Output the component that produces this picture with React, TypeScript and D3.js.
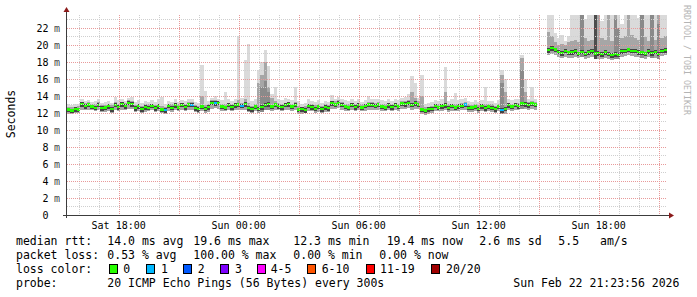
import React from "react";
import * as d3 from "d3";

// ---- time frame (10 minute steps) ----
const START = new Date(2026, 1, 21, 15, 25);
const END = new Date(2026, 1, 22, 21, 25);
const STEP_MIN = 10;
const Y_MAX = 23.52;

// ---- series (milliseconds) ----
const medianRtt: (number | null)[] = [
  12.4, 12.3, 12.45, 12.4, 13.05, 12.8, 13.0, 12.75, 12.6, 12.95,
  12.55, 12.65, 12.8, 12.45, 12.95, 12.7, 13.05, 12.8, 13.2, 13.05,
  12.55, 12.8, 12.45, 12.7, 12.6, 12.85, 12.55, 12.8, 12.4, 12.35,
  12.85, 12.6, 12.9, 12.65, 12.95, 12.7, 13.0, 12.95, 12.55, 12.45,
  12.75, 12.5, 12.7, 13.2, 13.15, 13.2, 12.75, 12.65, 12.95, 12.7,
  12.9, 13.0, 12.85, 13.05, 12.55, 12.45, 12.75, 12.5, 12.7, 12.95,
  13.05, 12.75, 13.0, 12.8, 12.7, 12.95, 13.05, 12.75, 12.95, 12.4,
  12.45, 12.35, 12.85, 12.7, 12.5, 12.75, 12.45, 12.7, 12.55, 13.15,
  13.0, 13.2, 12.95, 12.75, 12.65, 12.95, 12.7, 12.9, 12.65, 12.85,
  13.0, 12.95, 12.85, 13.0, 12.75, 12.65, 12.9, 12.7, 12.95, 12.75,
  13.1, 13.05, 13.2, 12.95, 13.15, 13.0, 12.4, 12.3, 12.45, 12.5,
  12.85, 12.65, 12.8, 12.9, 12.6, 12.85, 12.65, 12.8, 12.85, 13.0,
  12.6, 12.65, 12.75, 12.5, 12.8, 12.55, 12.75, 12.6, 12.45, 12.75,
  12.35, 12.5, 12.9, 12.75, 12.95, 12.8, 13.1, 13.05, 12.9, 13.1,
  13.0, null, null, null, 19.4, 19.6, 19.45, 19.2, 19.05, 19.3,
  19.1, 19.15, 19.25, 19.0, 19.2, 18.95, 19.15, 19.25, 19.0, 19.05,
  18.9, 19.15, 18.95, 18.8, 18.9, 18.85, 19.25, 19.3, 19.45, 19.3,
  19.3, 19.15, 19.1, 19.0, 19.25, 19.05, 19.2, 18.95, 19.3, 19.4,
];

const minPing: (number | null)[] = [
  11.9, 11.9, 11.95, 12.0, 12.3, 12.3, 12.4, 12.3, 12.2, 12.3,
  12.1, 12.1, 12.2, 12.0, 12.3, 12.2, 12.4, 12.3, 12.5, 12.5,
  12.1, 12.2, 12.0, 12.1, 12.2, 12.3, 12.1, 12.2, 11.95, 11.9,
  12.2, 12.1, 12.3, 12.2, 12.3, 12.2, 12.4, 12.4, 12.1, 12.0,
  12.2, 12.0, 12.1, 12.5, 12.6, 12.5, 12.2, 12.2, 12.3, 12.2,
  12.3, 12.4, 12.3, 12.4, 12.1, 12.0, 12.2, 12.0, 12.1, 12.3,
  12.4, 12.2, 12.4, 12.3, 12.2, 12.3, 12.4, 12.2, 12.3, 11.9,
  11.9, 12.0, 12.2, 12.2, 12.0, 12.1, 12.0, 12.1, 12.1, 12.5,
  12.5, 12.6, 12.4, 12.2, 12.2, 12.3, 12.2, 12.3, 12.2, 12.2,
  12.4, 12.4, 12.3, 12.4, 12.2, 12.2, 12.3, 12.2, 12.3, 12.2,
  12.5, 12.5, 12.6, 12.4, 12.5, 12.5, 11.9, 11.8, 11.9, 12.0,
  12.2, 12.2, 12.2, 12.3, 12.1, 12.2, 12.2, 12.2, 12.3, 12.4,
  12.1, 12.1, 12.2, 12.0, 12.2, 12.1, 12.2, 12.1, 12.0, 12.2,
  11.9, 11.9, 12.3, 12.2, 12.3, 12.3, 12.5, 12.5, 12.4, 12.5,
  12.4, null, null, null, 18.8, 18.9, 18.8, 18.6, 18.5, 18.6,
  18.5, 18.5, 18.6, 18.5, 18.6, 18.4, 18.5, 18.6, 18.4, 18.4,
  18.3, 18.5, 18.4, 18.2, 18.3, 18.3, 18.6, 18.7, 18.8, 18.7,
  18.6, 18.6, 18.5, 18.4, 18.6, 18.5, 18.5, 18.4, 18.7, 18.8,
];

const corePing: (number | null)[] = [
  12.7, 12.7, 12.75, 12.8, 13.3, 13.2, 13.3, 13.1, 13.0, 13.3,
  12.9, 12.9, 13.0, 12.9, 13.3, 13.1, 13.3, 13.2, 13.5, 13.4,
  12.9, 13.1, 12.8, 13.0, 13.0, 13.1, 12.9, 13.1, 12.8, 12.7,
  13.1, 13.0, 13.2, 13.0, 13.2, 13.1, 13.3, 13.3, 12.9, 12.8,
  14.0, 12.9, 13.0, 13.5, 13.5, 13.4, 13.1, 13.0, 13.2, 13.1,
  13.2, 13.5, 13.2, 13.6, 13.2, 12.8, 13.0, 15.5, 16.5, 18.0,
  15.0, 13.8, 13.4, 13.2, 13.1, 13.2, 13.3, 13.1, 13.3, 12.8,
  12.7, 12.8, 13.1, 13.1, 12.9, 13.0, 12.8, 13.0, 12.9, 13.4,
  13.4, 13.5, 13.3, 13.1, 13.0, 13.2, 13.1, 13.2, 13.0, 13.1,
  13.3, 13.3, 13.2, 13.3, 13.1, 13.0, 13.2, 13.1, 13.2, 13.1,
  13.4, 13.4, 13.5, 14.5, 13.8, 13.4, 14.0, 12.7, 12.7, 12.8,
  13.1, 13.0, 13.1, 14.5, 13.0, 13.1, 13.0, 13.1, 13.2, 13.3,
  13.0, 12.9, 13.0, 12.9, 13.1, 13.0, 13.0, 13.0, 12.8, 13.0,
  16.5, 14.5, 13.2, 13.1, 13.2, 13.2, 18.5, 14.5, 13.3, 13.4,
  13.3, null, null, null, 21.5, 21.0, 20.4, 20.0, 20.1, 20.0,
  20.3, 20.5, 20.6, 20.4, 24, 20.8, 20.5, 20.6, 24, 24,
  20.8, 20.6, 24, 20.5, 24, 20.3, 20.8, 21.0, 24, 21.2,
  20.8, 20.6, 24, 20.9, 20.5, 24, 20.6, 24, 20.8, 21.0,
];

const maxPing: (number | null)[] = [
  13.0, 12.9, 13.0, 13.1, 13.6, 13.4, 13.5, 13.3, 13.4, 13.6,
  13.2, 13.3, 13.4, 13.2, 13.9, 13.5, 13.6, 13.4, 13.8, 13.9,
  13.3, 13.5, 13.2, 13.4, 13.3, 13.5, 13.3, 13.6, 13.9, 13.1,
  13.4, 13.3, 13.6, 13.3, 13.5, 13.4, 13.6, 13.7, 13.3, 13.2,
  17.6, 14.6, 13.4, 13.8, 14.0, 13.7, 13.5, 14.5, 13.6, 13.4,
  13.6, 21.0, 13.8, 18.2, 20.1, 13.4, 13.6, 17.0, 18.0, 19.4,
  17.5, 14.2, 15.1, 13.6, 13.5, 13.8, 13.7, 13.5, 15.1, 13.4,
  13.1, 13.2, 13.6, 13.4, 13.3, 13.5, 13.2, 13.4, 13.3, 14.1,
  13.7, 13.9, 13.6, 13.5, 13.4, 13.6, 13.4, 13.6, 13.3, 13.5,
  14.0, 13.7, 13.6, 13.7, 13.5, 13.4, 13.6, 13.4, 13.7, 13.5,
  13.8, 13.9, 14.2, 16.3, 15.5, 13.8, 16.5, 13.1, 13.2, 13.3,
  13.5, 13.4, 13.6, 17.4, 13.4, 13.6, 14.3, 13.5, 13.7, 13.8,
  13.4, 13.3, 13.5, 13.3, 13.5, 15.1, 13.4, 13.4, 13.2, 13.5,
  17.0, 16.0, 13.6, 13.5, 13.7, 13.6, 18.8, 16.0, 13.7, 15.1,
  13.6, null, null, null, 24, 24, 21.4, 20.8, 21.2, 20.5,
  21.0, 24, 24, 24, 24, 23.0, 24, 24, 24, 24,
  22.8, 24, 24, 24, 24, 24, 22.5, 24, 24, 24,
  24, 23.2, 24, 24, 24, 24, 24, 24, 24, 24,
];

// [step index, lost pings]
const lossEvents: [number, number][] = [[29, 1], [37, 1], [44, 1], [52, 1], [119, 1], [130, 1]];
// denser smoke columns [step index, top value]
const darkSmoke: [number, number][] = [
  [58, 15.1], [59, 15.8], [60, 14.5], [130, 15.5], [136, 17.0],
  [154, 24], [164, 23], [165, 22], [172, 24], [175, 23.5], [177, 22.5],
];
const blackSmoke: [number, number][] = [[158, 24]];

const yTickValues = [0, 2, 4, 6, 8, 10, 12, 14, 16, 18, 20, 22];

const lossLabels = ["0", "1", "2", "3", "4-5", "6-10", "11-19", "20/20"];
const lossMax = [0, 1, 2, 3, 5, 10, 19, 20];
const lossColors = ["#26ff00", "#00b8ff", "#0059ff", "#7e00ff", "#ff00ff", "#ff5500", "#ff0000", "#a00000"];

const rttStats = ["14.0 ms avg", "19.6 ms max", "12.3 ms min", "19.4 ms now", "2.6 ms sd", "5.5", "am/s"];
const lossStats = ["0.53 % avg", "100.00 % max", "0.00 % min", "0.00 % now"];
const probeText = "20 ICMP Echo Pings (56 Bytes) every 300s";
const stampText = "Sun Feb 22 21:23:56 2026";

// layout
const rttX = [107.3, 193.3, 293.3, 386.7, 479.3, 558.3, 600];
const lossX = [107.3, 193.3, 293.3, 379.3];
const boxX = [108.7, 145.7, 182.7, 220, 257.3, 307, 365.7, 430.7];
const boxLabelX = [123.3, 161, 197.7, 235, 270.7, 321.7, 380, 446];

const MONO = "'DejaVu Sans Mono', monospace";

export default function App() {
  const L = 67, R = 667, T = 15, B = 215;
  const x = d3.scaleTime().domain([START, END]).range([L, R]);
  const y = d3.scaleLinear().domain([0, Y_MAX]).range([B, T]);
  const tAt = (i: number) => d3.timeMinute.offset(START, i * STEP_MIN);
  const n = medianRtt.length;
  const lossMap = new Map(lossEvents);
  const bucketOf = (lost: number) => lossMax.findIndex((m) => lost <= m);

  const area = d3
    .area<any>()
    .defined((d) => d !== null)
    .x((d) => x(d.t))
    .y0((d) => y(d.a))
    .y1((d) => y(d.b));

  const band = (lo: (i: number) => number | null, hi: (i: number) => number | null) => {
    const pts: any[] = [];
    for (let i = 0; i < n; i++) {
      const a = lo(i);
      const b = hi(i);
      if (a == null || b == null) {
        pts.push(null);
        continue;
      }
      pts.push({ t: tAt(i), a, b }, { t: tAt(i + 1), a, b });
    }
    return area(pts) || "";
  };

  const med = (i: number) => medianRtt[i] as number | null;
  const lightPath = band((i) => minPing[i], (i) => maxPing[i]);
  const midPath = band((i) => minPing[i], (i) => corePing[i]);
  const darkPath = band(
    (i) => (med(i) == null ? null : (med(i) as number) - 0.3),
    (i) => (med(i) == null ? null : (med(i) as number) + 0.22)
  );
  const medianPaths = lossColors.map((c, k) =>
    band(
      (i) => (med(i) == null || bucketOf(lossMap.get(i) || 0) !== k ? null : (med(i) as number) - 0.13),
      (i) => (med(i) == null || bucketOf(lossMap.get(i) || 0) !== k ? null : (med(i) as number) + 0.14)
    )
  );

  const hours = d3.timeHour.range(d3.timeHour.ceil(START), END);
  const minorY = d3.range(1, 24).filter((v) => v % 2 === 1);
  const majorY = d3.range(2, 24, 2);
  const cy = (v: number) => Math.round(y(v)) + 0.5;
  const cx = (t: Date) => Math.round(x(t)) + 0.5;
  const fmt = d3.timeFormat("%a %H:%M");

  return (
    <svg
      width={697}
      height={297}
      style={{ position: "absolute", left: 0, top: 0, background: "#fff" }}
      fontFamily={MONO}
    >
      <defs>
        <clipPath id="plot">
          <rect x={L} y={T} width={R - L} height={B - T} />
        </clipPath>
      </defs>
      <rect width={697} height={297} fill="#ffffff" />

      <g clipPath="url(#plot)" shapeRendering="crispEdges">
        <path d={lightPath} fill="#dadada" />
        <path d={midPath} fill="#a6a6a6" />
        {darkSmoke.map(([i, top]) => (
          <rect
            key={"d" + i}
            x={x(tAt(i))}
            width={x(tAt(i + 1)) - x(tAt(i))}
            y={y(top)}
            height={y(minPing[i] as number) - y(top)}
            fill="#8a8a8a"
          />
        ))}
        {blackSmoke.map(([i, top]) => (
          <rect
            key={"b" + i}
            x={x(tAt(i))}
            width={x(tAt(i + 1)) - x(tAt(i))}
            y={y(top)}
            height={y(minPing[i] as number) - y(top)}
            fill="#4c4c4c"
          />
        ))}
        <path d={darkPath} fill="#444444" />
        {medianPaths.map((d, k) => (
          <path key={k} d={d} fill={lossColors[k]} />
        ))}
      </g>

      {/* grid */}
      <g shapeRendering="crispEdges" strokeWidth={1} strokeDasharray="1,1">
        {minorY.map((v) => (
          <line key={"my" + v} x1={L} x2={R} y1={cy(v)} y2={cy(v)} stroke="#cfcfcf" />
        ))}
        {hours
          .filter((h) => h.getHours() % 3 !== 0)
          .map((h) => (
            <line key={"mx" + +h} x1={cx(h)} x2={cx(h)} y1={T} y2={B} stroke="#cfcfcf" />
          ))}
        {majorY.map((v) => (
          <line key={"My" + v} x1={L} x2={R} y1={cy(v)} y2={cy(v)} stroke="#e89a9a" />
        ))}
        {hours
          .filter((h) => h.getHours() % 3 === 0)
          .map((h) => (
            <line key={"Mx" + +h} x1={cx(h)} x2={cx(h)} y1={T} y2={B} stroke="#e89a9a" />
          ))}
      </g>

      {/* axes */}
      <g shapeRendering="crispEdges">
        <line x1={63} x2={670} y1={215.5} y2={215.5} stroke="#3c3c3c" />
        <line x1={66.5} x2={66.5} y1={11} y2={218} stroke="#3c3c3c" />
      </g>
      <polygon points="669,212.5 674,215.5 669,218.5" fill="#8b1a1a" />
      <polygon points="63.5,12 66.5,7 69.5,12" fill="#8b1a1a" />

      {/* y labels */}
      {yTickValues.map((v) => (
        <g key={"yl" + v} fontSize={10} fill="#000">
          <text x={48.5} y={y(v) + 3.6} textAnchor="end">
            {v}
          </text>
          {v > 0 && (
            <text x={54} y={y(v) + 3.6} fill="#444">
              m
            </text>
          )}
        </g>
      ))}

      {/* x labels */}
      {hours
        .filter((h) => h.getHours() % 6 === 0)
        .map((h) => (
          <text key={"xl" + +h} x={x(h)} y={228.5} fontSize={10} textAnchor="middle">
            {fmt(h)}
          </text>
        ))}

      {/* axis title */}
      <text transform="translate(15,114) rotate(-90)" fontSize={11.5} textAnchor="middle">
        Seconds
      </text>

      {/* watermark */}
      <text transform="translate(684,5) rotate(90)" fontSize={8.3} fill="#b4b4b4">
        RRDTOOL / TOBI OETIKER
      </text>

      {/* legend */}
      <g fontSize={11.5} fill="#000">
        <text x={16} y={245.3}>median rtt:</text>
        {rttStats.map((s, k) => (
          <text key={"r" + k} x={rttX[k]} y={245.3}>
            {s}
          </text>
        ))}
        <text x={16} y={259.3}>packet loss:</text>
        {lossStats.map((s, k) => (
          <text key={"l" + k} x={lossX[k]} y={259.3}>
            {s}
          </text>
        ))}
        <text x={16} y={273}>loss color:</text>
        {lossLabels.map((s, k) => (
          <g key={"c" + k}>
            <rect x={Math.round(boxX[k]) + 0.5} y={264.5} width={8} height={9} fill={lossColors[k]} stroke="#000" />
            <text x={boxLabelX[k]} y={273}>
              {s}
            </text>
          </g>
        ))}
        <text x={16} y={287}>probe:</text>
        <text x={107.3} y={287}>{probeText}</text>
        <text x={513.3} y={287}>{stampText}</text>
      </g>
    </svg>
  );
}
